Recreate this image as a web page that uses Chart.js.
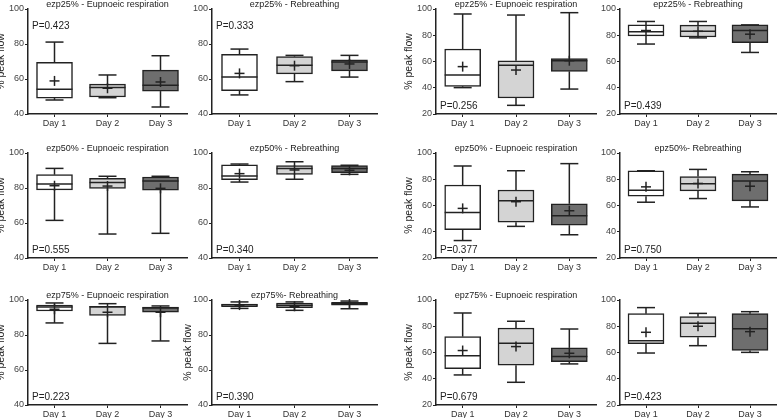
<!DOCTYPE html>
<html>
<head>
<meta charset="utf-8">
<script src="https://cdn.jsdelivr.net/npm/chart.js@4.4.0/dist/chart.umd.min.js"></script>
<style>
  html, body { margin: 0; padding: 0; background: #fff; overflow: hidden; }
  body { width: 778px; height: 418px; position: relative; }
  canvas { position: absolute; }
</style>
</head>
<body>
<script>
// panels are listed row by row, left to right
const days = ['Day 1', 'Day 2', 'Day 3']
const titles = [
  'ezp25% - Eupnoeic respiration', 'ezp25% - Rebreathing', 'epz25% - Eupnoeic respiration', 'epz25% - Rebreathing',
  'ezp50% - Eupnoeic respiration', 'ezp50% - Rebreathing', 'epz50% - Eupnoeic respiration', 'epz50%- Rebreathing',
  'ezp75% - Eupnoeic respiration', 'ezp75%- Rebreathing', 'epz75% - Eupnoeic respiration', ''
]
const pValues = ['0.423', '0.333', '0.256', '0.439', '0.555', '0.340', '0.377', '0.750', '0.223', '0.390', '0.679', '0.423']
const yMins = [40, 40, 20, 20, 40, 40, 20, 20, 40, 40, 20, 20]

const whiskerLow = [
  [48, 49.3, 44], [50.9, 58.5, 61.1], [40.1, 26.6, 39], [73.3, 78, 66.9],
  [61.5, 53.7, 54.1], [83.4, 85, 87.8], [33.3, 44.1, 37.7], [62.5, 65.3, 58.9],
  [86.9, 75.2, 76.6], [95.2, 94.1, 95], [42.9, 37.3, 51.3], [59.6, 65.2, 60.1]
]
const q1 = [
  [49.1, 49.7, 53.1], [53.3, 62.9, 64.6], [41.1, 32.2, 52.5], [79.5, 78.7, 74.4],
  [78.9, 79.8, 78.7], [84.8, 87.8, 88.8], [41.5, 47.3, 45], [67.1, 71.2, 63.5],
  [93.7, 91.2, 93], [96.2, 95.6, 97.1], [47.7, 50.3, 53.1], [66.7, 71.6, 61.6]
]
const medians = [
  [54.1, 55.2, 56.4], [61.1, 67.8, 69.7], [49.7, 57.1, 60.6], [82.6, 83.1, 83.6],
  [82.3, 83.2, 84], [86.9, 91.2, 91.2], [54.7, 63.6, 52.2], [71.7, 76.5, 78.6],
  [96, 96.2, 95.4], [97.1, 97, 97.9], [57.6, 67, 56.9], [69, 82.2, 78.1]
]
const q3 = [
  [69.5, 57.1, 65.1], [74.1, 72.8, 70.9], [69.5, 60.6, 62.2], [87.9, 87.7, 87.9],
  [87.6, 85.5, 86.3], [93.3, 92.8, 92.8], [75.6, 71.8, 61.3], [86.5, 82.1, 83.9],
  [97.1, 96.4, 96], [97.7, 98.3, 98.7], [72.1, 78.7, 63.5], [89.6, 87.3, 89.6]
]
const whiskerHigh = [
  [81.1, 62.3, 73.3], [77.1, 73.5, 73.5], [96.2, 95.4, 97.2], [90.5, 90.5, 87.9],
  [91.2, 86.7, 86.7], [93.7, 95, 93], [90.1, 86.5, 91.9], [86.5, 87.5, 85.7],
  [98.3, 97.9, 96.6], [98.9, 98.9, 99.4], [90.1, 83.8, 77.9], [94.2, 89.8, 91.1]
]
const means = [
  [58.9, 54.7, 58.3], [63.2, 67.6, 68.6], [56.1, 53.5, 60.6], [83.6, 83, 80.8],
  [81.3, 81.1, 79.8], [88.2, 90.3, 90.1], [57.8, 62.9, 56], [74.2, 76.8, 74.7],
  [94.7, 93, 93], [97.1, 96.4, 97.7], [61.5, 64.5, 59.4], [75.4, 80, 75.9]
]

const FONT = "'Liberation Sans', Arial, Helvetica, sans-serif"
const INK = '#222'
const dayFills = ['#ffffff', '#d4d4d4', '#6e6e6e']
const BOX_W = 36

// layout of the grid (px)
const colLeft = [-12, 180, 390, 590]
const colAxis = [28, 212, 436, 620]
const colRight = [187, 377, 596, 776]
const rowTop = [9, 153, 300]
const rowAxis = [114, 258, 405]
const yTitlePad = [6.5, 1.7, 13.2, 0]

const boxPlot = {
  id: 'boxPlot',
  afterDatasetsDraw (chart, args, opts) {
    const { ctx, chartArea, scales: { x, y } } = chart
    const p = opts.panel
    const seg = (x1, y1, x2, y2) => {
      ctx.beginPath(); ctx.moveTo(x1, y1); ctx.lineTo(x2, y2); ctx.stroke()
    }
    ctx.save()
    ctx.strokeStyle = INK
    ctx.lineWidth = 1.5
    days.forEach((d, i) => {
      const cx = x.getPixelForValue(i)
      const half = BOX_W / 2
      const cap = BOX_W / 4
      const yLo = y.getPixelForValue(whiskerLow[p][i])
      const yQ1 = y.getPixelForValue(q1[p][i])
      const yMed = y.getPixelForValue(medians[p][i])
      const yQ3 = y.getPixelForValue(q3[p][i])
      const yHi = y.getPixelForValue(whiskerHigh[p][i])
      const yMean = y.getPixelForValue(means[p][i])
      seg(cx, yQ3, cx, yHi); seg(cx - cap, yHi, cx + cap, yHi)
      seg(cx, yQ1, cx, yLo); seg(cx - cap, yLo, cx + cap, yLo)
      seg(cx - half, yMed, cx + half, yMed)
      seg(cx - 5, yMean, cx + 5, yMean); seg(cx, yMean - 5, cx, yMean + 5)
    })

    ctx.fillStyle = INK
    ctx.textBaseline = 'middle'
    if (titles[p]) {
      ctx.font = '9px ' + FONT
      ctx.textAlign = 'center'
      ctx.fillText(titles[p], (chartArea.left + chartArea.right) / 2, chartArea.top - 4)
    }
    ctx.font = '10px ' + FONT
    ctx.textAlign = 'left'
    const pY = opts.pTop ? chartArea.top + 17 : chartArea.bottom - 8
    ctx.fillText('P=' + pValues[p], chartArea.left + 4, pY)
    ctx.restore()
  }
}

titles.forEach((t, p) => {
  const row = Math.floor(p / 4)
  const col = p % 4
  const canvas = document.createElement('canvas')
  const top = rowTop[row] - 10
  canvas.width = colRight[col] + 4 - colLeft[col]
  canvas.height = rowAxis[row] - rowTop[row] + 10 + 24
  canvas.style.left = colLeft[col] + 'px'
  canvas.style.top = top + 'px'
  document.body.appendChild(canvas)

  const showYTitle = col === 0 || col === 2 || (col === 1 && row === 2)
  const tickFont = { family: FONT, size: 9 }

  new Chart(canvas.getContext('2d'), {
    type: 'bar',
    data: {
      labels: days,
      datasets: [{
        data: days.map((d, i) => [q1[p][i], q3[p][i]]),
        backgroundColor: dayFills,
        borderColor: INK,
        borderWidth: 1.5,
        borderSkipped: false,
        barThickness: BOX_W
      }]
    },
    options: {
      responsive: false,
      animation: false,
      devicePixelRatio: 1,
      layout: { padding: { top: 10, right: 4, left: 0, bottom: 0 } },
      plugins: {
        legend: { display: false },
        tooltip: { enabled: false },
        boxPlot: { panel: p, pTop: p === 0 || p === 1 }
      },
      scales: {
        x: {
          offset: true,
          grid: { display: true, drawOnChartArea: false, offset: false, tickLength: 3, color: INK, lineWidth: 1 },
          border: { color: INK, width: 1.5 },
          ticks: { font: tickFont, color: '#333', padding: 1, maxRotation: 0, autoSkip: false },
          afterFit (scale) { scale.height = 24 }
        },
        y: {
          min: yMins[p],
          max: 100,
          ticks: { stepSize: 20, font: tickFont, color: '#444', padding: 1 },
          grid: { display: true, drawOnChartArea: false, tickLength: 3, color: INK, lineWidth: 1 },
          border: { color: INK, width: 1.5 },
          title: {
            display: showYTitle,
            text: '% peak flow',
            color: INK,
            font: { family: FONT, size: 10.5 },
            padding: { top: yTitlePad[col], bottom: 0 }
          },
          afterFit (scale) { scale.width = colAxis[col] - colLeft[col] }
        }
      }
    },
    plugins: [boxPlot]
  })
})
</script>
</body>
</html>
